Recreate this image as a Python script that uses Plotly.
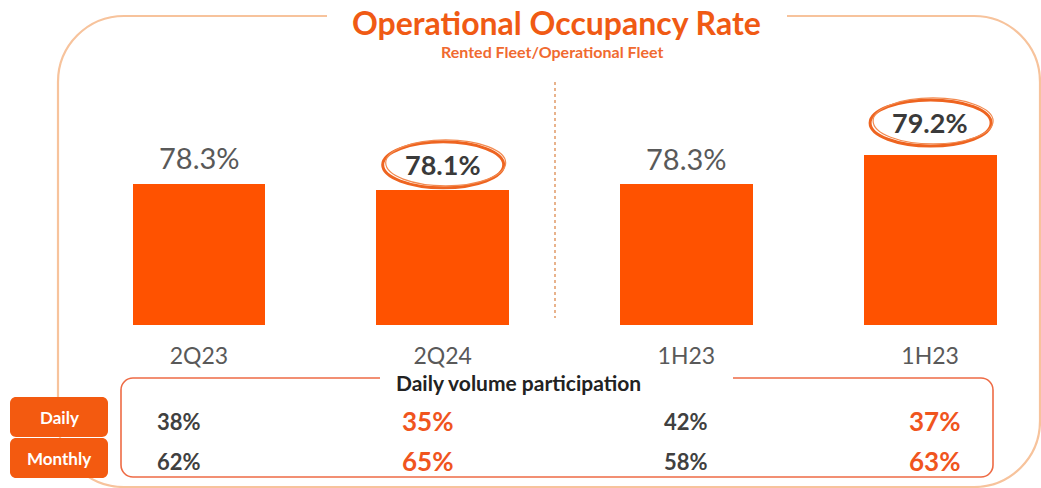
import plotly.graph_objects as go

# ---- data ----
periods = ["2Q23", "2Q24", "1H23", "1H23"]
occupancy = [78.3, 78.1, 78.3, 79.2]
highlight = [False, True, False, True]
row_names = ["Daily", "Monthly"]
daily_share = [38, 35, 42, 37]
monthly_share = [62, 65, 58, 63]

W, H = 1041, 488
ORANGE = "#FF5200"
FRAME = "#F7C39C"
RED_LINE = "#EE6B45"
ACCENT = "#F0551E"
GRAY = "#595959"
DARK = "#3A3A3A"
FONT = "Lato"


def px(x):
    return x / W


def py(y):
    return 1 - y / H


xs = list(range(len(periods)))

fig = go.Figure()
fig.add_trace(go.Bar(
    x=xs, y=occupancy, width=0.545, marker=dict(color=ORANGE, line=dict(width=0)),
    hoverinfo="skip", showlegend=False,
))

annotations = []
shapes = []

# value labels above bars
label_shift = [26, 25, 25, 32]
for i, (v, hl) in enumerate(zip(occupancy, highlight)):
    txt = f"{v:.1f}%"
    if hl:
        annotations.append(dict(x=i, y=v, xref="x", yref="y", text=f"<b>{txt}</b>",
                                showarrow=False, xanchor="center", yanchor="middle",
                                yshift=label_shift[i],
                                font=dict(family=FONT, size=27, color=DARK)))
        c = label_shift[i]
        shapes.append(dict(type="circle", xref="x", yref="y", xsizemode="pixel",
                           ysizemode="pixel", xanchor=i, yanchor=v,
                           x0=-60, x1=61, y0=c - 23, y1=c + 23,
                           line=dict(color="#EE6420", width=3)))
        shapes.append(dict(type="circle", xref="x", yref="y", xsizemode="pixel",
                           ysizemode="pixel", xanchor=i, yanchor=v,
                           x0=-57, x1=63, y0=c - 21, y1=c + 25,
                           line=dict(color="#F28A50", width=1.2)))
    else:
        annotations.append(dict(x=i, y=v, xref="x", yref="y", text=txt,
                                showarrow=False, xanchor="center", yanchor="middle",
                                yshift=label_shift[i],
                                font=dict(family=FONT, size=29, color=GRAY)))


def rounded_path(x0, y0, x1, y1, r, gap=None):
    k = 0.5523 * r
    X = lambda v: f"{px(v):.5f}"
    Y = lambda v: f"{py(v):.5f}"
    parts = []
    if gap:
        parts.append(f"M{X(gap[1])},{Y(y0)} L{X(x1 - r)},{Y(y0)}")
    else:
        parts.append(f"M{X(x0 + r)},{Y(y0)} L{X(x1 - r)},{Y(y0)}")
    parts.append(f"C{X(x1 - r + k)},{Y(y0)} {X(x1)},{Y(y0 + r - k)} {X(x1)},{Y(y0 + r)}")
    parts.append(f"L{X(x1)},{Y(y1 - r)}")
    parts.append(f"C{X(x1)},{Y(y1 - r + k)} {X(x1 - r + k)},{Y(y1)} {X(x1 - r)},{Y(y1)}")
    parts.append(f"L{X(x0 + r)},{Y(y1)}")
    parts.append(f"C{X(x0 + r - k)},{Y(y1)} {X(x0)},{Y(y1 - r + k)} {X(x0)},{Y(y1 - r)}")
    parts.append(f"L{X(x0)},{Y(y0 + r)}")
    parts.append(f"C{X(x0)},{Y(y0 + r - k)} {X(x0 + r - k)},{Y(y0)} {X(x0 + r)},{Y(y0)}")
    if gap:
        parts.append(f"L{X(gap[0])},{Y(y0)}")
    else:
        parts.append("Z")
    return " ".join(parts)


# outer frame with title gap
shapes.insert(0, dict(type="path", xref="paper", yref="paper",
                      path=rounded_path(58, 16, 1040, 487, 66, gap=(327, 787)),
                      line=dict(color=FRAME, width=2.2), layer="below"))

# dashed separator
shapes.append(dict(type="line", xref="paper", yref="paper",
                   x0=px(555), x1=px(555), y0=py(82), y1=py(318),
                   line=dict(color="#E3A070", width=1.6, dash="dot")))

# inner table box with header gap
shapes.append(dict(type="path", xref="paper", yref="paper",
                   path=rounded_path(121, 378, 993, 477, 12, gap=(380, 733)),
                   line=dict(color=RED_LINE, width=1.6)))

# Daily / Monthly boxes
box_rows = [(397, 437), (438, 478)]
for (t, b), name in zip(box_rows, row_names):
    shapes.append(dict(type="path", xref="paper", yref="paper",
                       path=rounded_path(10, t, 108, b, 6),
                       fillcolor="#F35A10", line=dict(width=0)))
    annotations.append(dict(x=px(59), y=py((t + b) / 2), xref="paper", yref="paper",
                            xanchor="center", yanchor="middle",
                            text=f"<b>{name}</b>", showarrow=False,
                            font=dict(family=FONT, size=17, color="white")))

# table values
col_shift = [-20, -15, 0, 4]
for vals, yc in [(daily_share, 421), (monthly_share, 461)]:
    for i, v in enumerate(vals):
        hl = highlight[i]
        annotations.append(dict(
            x=i, y=py(yc), xref="x", yref="paper", xshift=col_shift[i],
            text=f"<b>{v}%</b>", showarrow=False, xanchor="center", yanchor="middle",
            font=dict(family=FONT, size=26 if hl else 22, color=ACCENT if hl else "#404040")))

# table header
annotations.append(dict(x=px(518), y=py(382), xref="paper", yref="paper",
                        xanchor="center", yanchor="middle",
                        text="<b>Daily volume participation</b>", showarrow=False,
                        font=dict(family=FONT, size=21, color="#222222")))

# titles
annotations.append(dict(x=px(556), y=py(23), xref="paper", yref="paper",
                        xanchor="center", yanchor="middle",
                        text="<b>Operational Occupancy Rate</b>", showarrow=False,
                        font=dict(family=FONT, size=32, color="#F05A14")))
annotations.append(dict(x=px(552), y=py(51), xref="paper", yref="paper",
                        xanchor="center", yanchor="middle",
                        text="<b>Rented Fleet/Operational Fleet</b>", showarrow=False,
                        font=dict(family=FONT, size=16, color="#F06A30")))

# axis scaling (bar bottoms at 325px, 31.7 px per percentage point)
slope = 31.7
base = 78.3 - (325 - 183.5) / slope
top = base + (325 - 80) / slope
fig.update_layout(
    width=W, height=H,
    margin=dict(l=0, r=0, t=0, b=0),
    paper_bgcolor="white", plot_bgcolor="rgba(0,0,0,0)",
    xaxis=dict(domain=[0, 1], range=[-199 / 243.7, (W - 199) / 243.7],
               tickvals=xs, ticktext=periods, showgrid=False, zeroline=False,
               showline=False, ticks="", ticklabelstandoff=15,
               tickfont=dict(family=FONT, size=23, color=GRAY), fixedrange=True),
    yaxis=dict(domain=[1 - 325 / H, 1 - 80 / H], range=[base, top], visible=False,
               fixedrange=True),
    shapes=shapes,
    annotations=annotations,
    bargap=0,
    showlegend=False,
)

fig.write_html("out.html", config={"displayModeBar": False},
               post_script="document.body.style.margin='0';document.body.style.overflow='hidden';")
